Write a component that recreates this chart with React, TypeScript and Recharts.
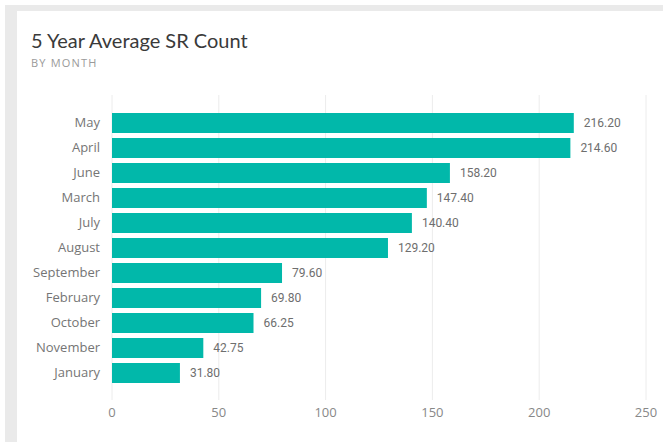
import React from 'react';
import { BarChart, Bar, XAxis, YAxis, CartesianGrid, LabelList } from 'recharts';

const months = ['May', 'April', 'June', 'March', 'July', 'August', 'September', 'February', 'October', 'November', 'January'];
const averages = [216.2, 214.6, 158.2, 147.4, 140.4, 129.2, 79.6, 69.8, 66.25, 42.75, 31.8];
const xTicks = [0, 50, 100, 150, 200, 250];

const data = months.map((month, i) => ({ month, value: averages[i] }));

const App = () => {
  return (
    <div style={{ position: 'absolute', left: 0, top: 0, width: 663, height: 442, background: '#fff', overflow: 'hidden' }}>
      {/* grey tile frame + white card */}
      <div style={{ position: 'absolute', left: 5, top: 5, width: 658, height: 437, background: '#eaeaea' }} />
      <div style={{ position: 'absolute', left: 17, top: 11, width: 646, height: 431, background: '#fff' }} />

      <div style={{ position: 'absolute', left: 31, top: 28, fontFamily: 'Lato, sans-serif', fontSize: 20, color: '#3a3a3a', whiteSpace: 'nowrap' }}>
        5 Year Average SR Count
      </div>
      <div style={{ position: 'absolute', left: 31, top: 55, fontFamily: '"Open Sans", sans-serif', fontSize: 11, letterSpacing: 1.2, color: '#9a9a9a' }}>
        BY MONTH
      </div>

      <div style={{ position: 'absolute', left: 0, top: 0 }}>
        <BarChart
          width={663}
          height={442}
          data={data}
          layout="vertical"
          margin={{ top: 95, right: 17, left: 0, bottom: 0 }}
        >
          <CartesianGrid horizontal={false} stroke="#ececec" />
          <XAxis
            type="number"
            domain={[0, 250]}
            ticks={xTicks}
            height={42}
            axisLine={false}
            tickLine={false}
            tick={{ fill: '#888', fontSize: 13, fontFamily: '"Open Sans", sans-serif' }}
          />
          <YAxis
            type="category"
            dataKey="month"
            width={112}
            axisLine={false}
            tickLine={false}
            tickMargin={6}
            padding={{ top: 15, bottom: 15 }}
            tick={{ fill: '#757575', fontSize: 13, fontFamily: '"Open Sans", sans-serif' }}
          />
          <Bar dataKey="value" fill="#01b8aa" barSize={20} isAnimationActive={false}>
            <LabelList
              dataKey="value"
              position="right"
              offset={10}
              formatter={(v: number) => v.toFixed(2)}
              style={{ fill: '#6e6e6e', fontSize: 12, fontWeight: 400, fontFamily: 'Roboto, sans-serif' }}
            />
          </Bar>
        </BarChart>
      </div>
    </div>
  );
};

export default App;
